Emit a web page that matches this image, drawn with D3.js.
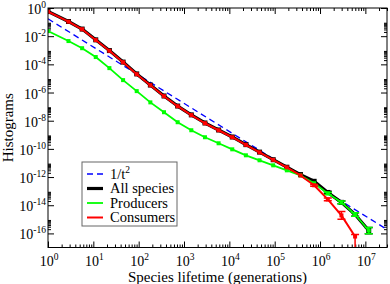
<!DOCTYPE html>
<html><head><meta charset="utf-8">
<script src="https://cdn.jsdelivr.net/npm/d3@7"></script>
<style>
body{margin:0;background:#fff}
svg{display:block}
text{font-family:"Liberation Serif","Times New Roman",serif;fill:#000}
</style>
</head><body>
<svg id="c" width="390" height="284"></svg>
<script>
// ---- data (log-binned lifetimes, bin centres) ----
const lifetimes = [1, 2.83, 5.66, 11.3, 22.6, 45.3, 90.5, 181, 362, 724, 1448, 2896, 5793,
  11585, 23170, 46341, 92682, 185364, 370728, 741455, 1482910, 2965821, 5931642, 11863283];
const allSpecies = [0.56, 0.11, 0.032, 5.5e-3, 9.5e-4, 1.45e-4, 2.1e-5, 3.4e-6, 5.7e-7, 1.1e-7,
  2.6e-8, 6.9e-9, 2.2e-9, 7.0e-10, 2.0e-10, 5.9e-11, 1.7e-11, 5.0e-12, 1.5e-12, 5.0e-13,
  8.1e-14, 1.6e-14, 2.2e-15, 1.6e-16];
const producers = [2.3e-2, 4.5e-3, 1.4e-3, 3.3e-4, 5.4e-5, 7.6e-6, 1.26e-6, 2.0e-7, 4.0e-8, 7.8e-9,
  2.1e-9, 6.7e-10, 2.5e-10, 9.3e-11, 3.5e-11, 1.55e-11, 6.8e-12, 3.0e-12, 1.3e-12, 3.6e-13,
  6.9e-14, 1.6e-14, 2.2e-15, 1.6e-16];
const consumers = [0.55, 0.107, 0.031, 5.3e-3, 9.2e-4, 1.4e-4, 2.0e-5, 3.3e-6, 5.5e-7, 1.07e-7,
  2.5e-8, 6.6e-9, 2.1e-9, 6.7e-10, 1.95e-10, 5.7e-11, 1.67e-11, 4.9e-12, 1.3e-12, 2.6e-13,
  2.6e-14, 1.9e-15, 6.0e-17];
// error bar half-widths in decades: [bin index, half-width]
const allErr = [[20,0.08],[21,0.1],[22,0.12],[23,0.22]];
const producersErr = [[20,0.08],[21,0.1],[22,0.12],[23,0.22]];
const consumersErr = [[19,0.06],[20,0.1],[21,0.28]];
const consumersLastUpper = 0.15; // last consumer bin: lower bar reaches zero
const powerLaw = [[1, 0.17], [3e7, 1.9e-16]];
const xDomain = [1, 3e7];
const yDomain = [1e-17, 1];
const xTickExps = [0,1,2,3,4,5,6,7];
const yTickExps = [0,-2,-4,-6,-8,-10,-12,-14,-16];
const legendLabels = ["1/t", "All species", "Producers", "Consumers"];
const xTitle = "Species lifetime (generations)";
const yTitle = "Histograms";

// ---- layout ----
const L = 48, R = 387, T = 8, B = 247.5;
const svg = d3.select("#c");
const x = d3.scaleLog().domain(xDomain).range([L, R]);
const y = d3.scaleLog().domain(yDomain).range([B, T]);

const defs = svg.append("defs");
defs.append("clipPath").attr("id","clip").append("rect")
  .attr("x",L).attr("y",T).attr("width",R-L).attr("height",B-T);

// ---- ticks ----
const xMinor = [];
for (let k=0;k<=7;k++) for (let m=2;m<=9;m++){const v=m*Math.pow(10,k); if(v<=xDomain[1]) xMinor.push(v);}
const yMinor = [];
for (let k=-16;k<=-2;k+=2) for (let m=2;m<=9;m++) yMinor.push(m*Math.pow(10,k));
const xMajor = xTickExps.map(e=>Math.pow(10,e));
const yMajor = yTickExps.map(e=>Math.pow(10,e));

function axisG(axis, tr){ const g=svg.append("g").attr("transform",tr).call(axis);
  g.select(".domain").remove(); g.selectAll("line").attr("stroke","#000").attr("stroke-width",1); g.selectAll("text").remove(); return g; }
axisG(d3.axisBottom(x).tickValues(xMajor).tickSize(-6).tickFormat(""), `translate(0,${B})`);
axisG(d3.axisBottom(x).tickValues(xMinor).tickSize(-3).tickFormat(""), `translate(0,${B})`);
axisG(d3.axisTop(x).tickValues(xMajor).tickSize(-6).tickFormat(""), `translate(0,${T})`);
axisG(d3.axisTop(x).tickValues(xMinor).tickSize(-3).tickFormat(""), `translate(0,${T})`);
axisG(d3.axisLeft(y).tickValues(yMajor).tickSize(-6).tickFormat(""), `translate(${L},0)`);
axisG(d3.axisLeft(y).tickValues(yMinor).tickSize(-3).tickFormat(""), `translate(${L},0)`);
axisG(d3.axisRight(y).tickValues(yMajor).tickSize(-6).tickFormat(""), `translate(${R},0)`);
axisG(d3.axisRight(y).tickValues(yMinor).tickSize(-3).tickFormat(""), `translate(${R},0)`);

// tick labels
xTickExps.forEach(e=>{
  const t = svg.append("text").attr("x", x(Math.pow(10,e))+1).attr("y",265.5)
    .attr("text-anchor","middle").style("font-size","14px");
  t.append("tspan").text("10");
  t.append("tspan").attr("dy",-6).style("font-size","9.5px").text(String(e));
});
yTickExps.forEach(e=>{
  const t = svg.append("text").attr("x", 46).attr("y", y(Math.pow(10,e))+6)
    .attr("text-anchor","end").style("font-size","14px");
  t.append("tspan").text("10");
  t.append("tspan").attr("dy",-6).style("font-size","9.5px").text(e===0?"0":"-"+(-e));
});

// titles
svg.append("text").attr("x",(L+R)/2).attr("y",281.5).attr("text-anchor","middle")
  .style("font-size","15px").text(xTitle);
svg.append("text").attr("transform",`translate(13,${(T+B)/2}) rotate(-90)`)
  .attr("text-anchor","middle").style("font-size","15px").text(yTitle);

// ---- data layer ----
const plot = svg.append("g").attr("clip-path","url(#clip)");
const line = d3.line().x(d=>x(d[0])).y(d=>y(d[1]));
plot.append("path").datum(powerLaw).attr("d",line).attr("fill","none")
  .attr("stroke","#0000ff").attr("stroke-width",1.3).attr("stroke-dasharray","6,4");

function series(vals, color, width, size, errs){
  const pts = vals.map((v,i)=>[lifetimes[i], v]);
  plot.append("path").datum(pts).attr("d",line).attr("fill","none")
    .attr("stroke",color).attr("stroke-width",width).attr("stroke-linejoin","round");
  errs.forEach(([i,dec])=>{
    const xv = x(lifetimes[i]);
    const y1 = y(vals[i]*Math.pow(10,dec)), y2 = y(vals[i]/Math.pow(10,dec));
    plot.append("line").attr("x1",xv).attr("x2",xv).attr("y1",y1).attr("y2",y2).attr("stroke",color).attr("stroke-width",1.5);
    [y1,y2].forEach(yy=>plot.append("line").attr("x1",xv-4).attr("x2",xv+4).attr("y1",yy).attr("y2",yy).attr("stroke",color).attr("stroke-width",1.5));
  });
  plot.selectAll(null).data(pts).enter().append("rect")
    .attr("x",d=>x(d[0])-size/2).attr("y",d=>y(d[1])-size/2)
    .attr("width",size).attr("height",size).attr("fill",color);
}
series(allSpecies, "#000000", 3.2, 5, allErr);
series(producers, "#00ff00", 1.8, 4, producersErr);
series(consumers, "#ff0000", 2, 4, consumersErr);
// last consumer bin: lower bar to zero
{
  const i = consumers.length-1, xv = x(lifetimes[i]);
  const yu = y(consumers[i]*Math.pow(10,consumersLastUpper));
  plot.append("line").attr("x1",xv).attr("x2",xv).attr("y1",yu).attr("y2",B+5).attr("stroke","#ff0000").attr("stroke-width",1.5);
  plot.append("line").attr("x1",xv-4).attr("x2",xv+4).attr("y1",yu).attr("y2",yu).attr("stroke","#ff0000").attr("stroke-width",1.5);
}

// frame
svg.append("rect").attr("x",L).attr("y",T).attr("width",R-L).attr("height",B-T)
  .attr("fill","none").attr("stroke","#000").attr("stroke-width",1);

// ---- legend ----
const lg = svg.append("g");
lg.append("rect").attr("x",82).attr("y",162).attr("width",95).attr("height",64)
  .attr("fill","#fff").attr("stroke","#666").attr("stroke-width",1);
const legendStyles = [
  {c:"#0000ff", w:1.3, dash:"6,4"},
  {c:"#000000", w:3.2, dash:null},
  {c:"#00ff00", w:1.8, dash:null},
  {c:"#ff0000", w:2, dash:null}];
legendLabels.forEach((lab,i)=>{
  const by = 178.5 + i*14.5;
  const s = legendStyles[i];
  const ln = lg.append("line").attr("x1",87).attr("x2",103).attr("y1",by-4.5).attr("y2",by-4.5)
    .attr("stroke",s.c).attr("stroke-width",s.w);
  if (s.dash) ln.attr("stroke-dasharray",s.dash);
  const t = lg.append("text").attr("x",110).attr("y",by).style("font-size","14.5px");
  t.append("tspan").text(lab);
  if (i===0) t.append("tspan").attr("dy",-6).style("font-size","9.5px").text("2");
});
</script>
</body></html>
